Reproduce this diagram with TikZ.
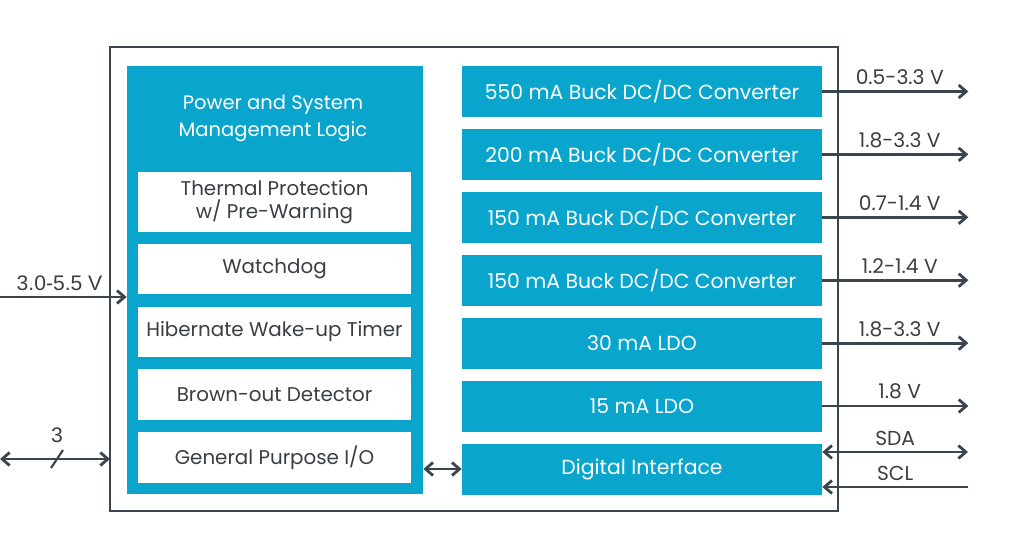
\documentclass[tikz,border=0pt]{standalone}
\usepackage{fontspec}
\setmainfont{Poppins}
\newfontfamily\arialfont{Liberation Sans}
\usepackage{tikz}
\usetikzlibrary{arrows.meta,positioning,calc}
\definecolor{pmicblue}{HTML}{0AA5CD}
\definecolor{wiregray}{HTML}{3B4550}
\definecolor{textgray}{HTML}{3A3D42}
\tikzset{
  panel/.style={fill=pmicblue,draw=none},
  subblock/.style={fill=white,draw=none,minimum width=5.46cm,align=center,
    text=textgray,font=\fontsize{11.3}{13}\selectfont},
  conv/.style={fill=pmicblue,draw=none,minimum width=7.2cm,minimum height=1.02cm,
    text=white,font=\fontsize{11.6}{13.5}\selectfont},
  wire/.style={draw=wiregray,line width=1.6pt},
  tip/.style={wire,-{Straight Barb[length=1.5mm,width=2.6mm]}},
  tips/.style={wire,{Straight Barb[length=1.5mm,width=2.6mm]}-{Straight Barb[length=1.5mm,width=2.6mm]}},
  pinlabel/.style={text=textgray,font=\fontsize{11.5}{13}\selectfont,inner sep=1pt}
}
\begin{document}
\begin{tikzpicture}
  \useasboundingbox (0,0) rectangle (20.2,-11);
  % Chip outline
  \draw[wiregray,line width=1.6pt] (2.2,-0.94) rectangle (16.76,-10.22);
  % Power and system management
  \node[panel,minimum width=5.92cm,minimum height=8.56cm] (psm) at (5.5,-5.6) {};
  \node[text=white,align=center,font=\fontsize{11.1}{15.3}\selectfont] (psmtitle) at (5.46,-2.37)
    {Power and System\\Management Logic};
  \node[subblock,minimum height=1.2cm] (thermal) at (5.49,-4.04)
    {Thermal Protection\\w/ Pre-Warning};
  \node[subblock,minimum height=1.0cm] (wdog) at (5.49,-5.38) {Watchdog};
  \node[subblock,minimum height=1.0cm] (hib) at (5.49,-6.64) {Hibernate Wake-up Timer};
  \node[subblock,minimum height=1.02cm] (bod) at (5.49,-7.89) {Brown-out Detector};
  \node[subblock,minimum height=1.02cm] (gpio) at (5.49,-9.15) {General Purpose I/O};
  % Regulators
  \foreach \i/\txt/\vout in {1/550 mA Buck DC\slash DC Converter/0.5-3.3 V,
      2/200 mA Buck DC\slash DC Converter/1.8-3.3 V,
      3/150 mA Buck DC\slash DC Converter/0.7-1.4 V,
      4/150 mA Buck DC\slash DC Converter/1.2-1.4 V,
      5/30 mA LDO/1.8-3.3 V,
      6/15 mA LDO/1.8 V} {
    \node[conv] (reg\i) at (12.84,{-1.83-1.258*(\i-1)}) {\txt};
    \coordinate (out\i) at ($(reg\i.east)+(2.92,0)$);
    \draw[tip] (reg\i.east) -- (out\i)
      node[pinlabel,above=2pt,pos=0.53] {\vout};
  }
  \node[conv] (dif) at (12.84,-9.38) {Digital Interface};
  % I2C
  \coordinate (sdaend) at (19.36,-9.04);
  \coordinate (sclend) at (19.36,-9.74);
  \draw[tips] (dif.east |- sdaend) -- (sdaend)
    node[pinlabel,above=2pt,pos=0.5] {SDA};
  \draw[tip] (sclend) -- (dif.east |- sclend)
    node[pinlabel,above=2pt,pos=0.5] {SCL};
  % Supply and GPIO pins
  \coordinate (vin) at (0,-5.94);
  \draw[tip] (vin) -- (vin -| psm.west)
    node[pinlabel,above=2pt,pos=0.47,font=\arialfont\fontsize{12}{13}\selectfont] {3.0-5.5 V};
  \coordinate (gpiopin) at (0,-9.18);
  \draw[tips] (gpiopin) -- (2.2,-9.18);
  \draw[wire,line width=1.2pt] (1.02,-9.36) -- (1.26,-9.0)
    node[pinlabel,above=3pt,font=\arialfont\fontsize{12}{13}\selectfont] (gpiocount) at (1.14,-9.02) {3};
  \draw[tips] (dif.west -| psm.east) -- (dif.west);
\end{tikzpicture}
\end{document}
